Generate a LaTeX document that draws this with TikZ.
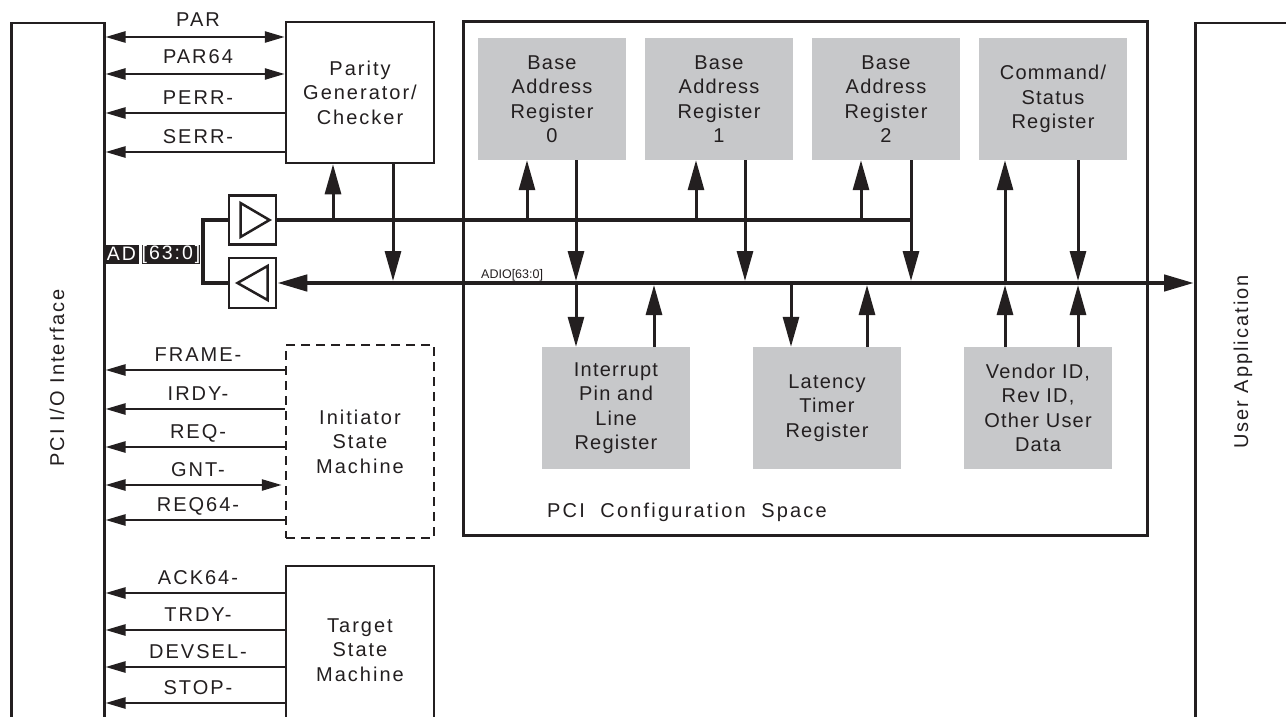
\documentclass[tikz,border=0pt]{standalone}
\usepackage{fontspec}
\setmainfont{Liberation Sans}
\newfontfamily\spacedfont{Liberation Sans}[LetterSpace=10]
\newfontfamily\regfont{Liberation Sans}[LetterSpace=6]
\newfontfamily\cfgfont{Liberation Sans}[LetterSpace=11, WordSpace=2]
\usetikzlibrary{arrows.meta}
\definecolor{ink}{RGB}{35,31,32}
\definecolor{regGray}{RGB}{199,200,202}
\tikzset{
  tipS/.tip={Triangle[length=20pt,width=11pt]},
  tipB/.tip={Triangle[length=30pt,width=16pt]},
  lbl/.style={font=\spacedfont\fontsize{20}{24.5}\selectfont, align=center, inner sep=0pt, text=ink},
  blk/.style={draw=ink, line width=2.5pt, inner sep=0pt, lbl},
  reg/.style={fill=regGray, draw=none, minimum width=148pt, minimum height=122pt, align=center,
    inner sep=0pt, text=ink, font=\regfont\fontsize{20}{24.5}\selectfont},
  sig/.style={draw=ink, line width=2.5pt},
  va/.style={draw=ink, line width=3pt},
  bus/.style={draw=ink, line width=4.5pt},
  tri/.style={draw=ink, line width=2.5pt, line join=miter},
  adbox/.style={fill=ink, text=white, inner sep=0pt, minimum height=19pt,
    font=\spacedfont\fontsize{19.5}{19.5}\selectfont},
  siglbl/.style={lbl, anchor=base}
}
\begin{document}
\begin{tikzpicture}[x=1pt,y=-1pt]
\useasboundingbox (0,0) rectangle (1286,717);
\clip (0,0) rectangle (1286,717);
\fill[white] (0,0) rectangle (1286,717);

% outer interface boxes
\node[blk, minimum width=93pt, minimum height=740pt, anchor=north west] (pci) at (10,22) {};
\node[lbl, rotate=90] (pcitxt) at (57,378) {PCI I/O Interface};
\node[blk, minimum width=130pt, minimum height=740pt, anchor=north west] (ua) at (1194,22) {};
\node[lbl, rotate=90] (uatxt) at (1243,362) {User Application};

% left blocks
\node[blk, minimum width=148pt, minimum height=141pt] (par) at (360,92.5) {Parity\\Generator/\\Checker};
\node[blk, dash pattern=on 9pt off 6pt, minimum width=148pt, minimum height=193pt] (ini) at (360,441.5) {Initiator\\State\\Machine};
\node[blk, minimum width=148pt, minimum height=168pt] (tgt) at (360,650) {Target\\State\\Machine};

% configuration space
\node[draw=ink, line width=3pt, minimum width=684pt, minimum height=513pt, inner sep=0pt] (cfg) at (805,278.5) {};
\node[lbl, font=\cfgfont\fontsize{20}{24.5}\selectfont, anchor=west] (cfglbl) at (547,512) {PCI Configuration Space};

\node[reg] (bar0) at (552,99) {Base\\Address\\Register\\0};
\node[reg] (bar1) at (719,99) {Base\\Address\\Register\\1};
\node[reg] (bar2) at (886,99) {Base\\Address\\Register\\2};
\node[reg] (cmd) at (1053,99) {Command/\\Status\\Register};
\node[reg] (int) at (616,408) {Interrupt\\Pin and\\Line\\Register};
\node[reg] (lat) at (827,408) {Latency\\Timer\\Register};
\node[reg] (ven) at (1038,408) {Vendor ID,\\Rev ID,\\Other User\\Data};

% buffers
\node[draw=ink, line width=2.5pt, minimum width=47pt, minimum height=49pt, inner sep=0pt] (ubuf) at (252.5,220) {};
\node[draw=ink, line width=2.5pt, minimum width=47pt, minimum height=50pt, inner sep=0pt] (lbuf) at (252.5,283) {};
\draw[tri, shift={(ubuf.center)}] (-12,-17) -- (17,0) -- (-12,17) -- cycle;
\draw[tri, shift={(lbuf.center)}] (15,-17) -- (-15,0) -- (15,17) -- cycle;

% AD label
\node[adbox, minimum width=35pt] (ad1) at (121.5,254) {AD};
\node[adbox, minimum width=58pt] (ad2) at (171,254) {[63:0]};

% bus coordinates
\coordinate (bu) at (0,220);
\coordinate (bl) at (0,283);
\coordinate (xPu) at (333,0);
\coordinate (xPd) at (393,0);
\coordinate (x0u) at (527,0);
\coordinate (x0d) at (576,0);
\coordinate (x1u) at (696,0);
\coordinate (x1d) at (745,0);
\coordinate (x2u) at (861,0);
\coordinate (x2d) at (911,0);
\coordinate (xCu) at (1005,0);
\coordinate (xCd) at (1078,0);
\coordinate (xIu) at (654,0);
\coordinate (xLd) at (791,0);
\coordinate (xLu) at (867,0);

% buses
\draw[bus] (ubuf.east) -- (x2d |- bu);
\draw[bus] (ubuf.west) -- ++(-25,0) |- (lbuf.west);
\draw[bus, tipB-tipB] (lbuf.east) -- (ua.west |- bl);
\node[font=\fontsize{12.5}{12.5}\selectfont, text=ink, anchor=base west, inner sep=0pt] (adio) at (481,278) {ADIO[63:0]};

% vertical arrows
\draw[va, -tipB] (xPu |- bu) -- (xPu |- par.south);
\draw[va, -tipB, shorten >=2pt] (xPd |- par.south) -- (xPd |- bl);
\draw[va, -tipB] (x0u |- bu) -- (x0u |- bar0.south);
\draw[va, -tipB, shorten >=2pt] (x0d |- bar0.south) -- (x0d |- bl);
\draw[va, -tipB] (x1u |- bu) -- (x1u |- bar1.south);
\draw[va, -tipB, shorten >=2pt] (x1d |- bar1.south) -- (x1d |- bl);
\draw[va, -tipB] (x2u |- bu) -- (x2u |- bar2.south);
\draw[va, -tipB, shorten >=2pt] (x2d |- bar2.south) -- (x2d |- bl);
\draw[va, -tipB] (xCu |- bl) -- (xCu |- cmd.south);
\draw[va, -tipB, shorten >=2pt] (xCd |- cmd.south) -- (xCd |- bl);
\draw[va, -tipB] (x0d |- bl) -- (x0d |- int.north);
\draw[va, -tipB, shorten >=2pt] (xIu |- int.north) -- (xIu |- bl);
\draw[va, -tipB] (xLd |- bl) -- (xLd |- lat.north);
\draw[va, -tipB, shorten >=2pt] (xLu |- lat.north) -- (xLu |- bl);
\draw[va, -tipB, shorten >=2pt] (xCu |- ven.north) -- (xCu |- bl);
\draw[va, -tipB, shorten >=2pt] (xCd |- ven.north) -- (xCd |- bl);

% signal lines
\coordinate (sPAR) at (0,37);
\coordinate (sPAR64) at (0,74);
\coordinate (sPERR) at (0,113);
\coordinate (sSERR) at (0,152);
\coordinate (sFRAME) at (0,370);
\coordinate (sIRDY) at (0,409);
\coordinate (sREQ) at (0,447);
\coordinate (sGNT) at (0,485);
\coordinate (sREQ64) at (0,520);
\coordinate (sACK) at (0,593);
\coordinate (sTRDY) at (0,630);
\coordinate (sDEV) at (0,667);
\coordinate (sSTOP) at (0,703);

\draw[sig, tipS-tipS] (pci.east |- sPAR) -- (par.west |- sPAR);
\draw[sig, tipS-tipS] (pci.east |- sPAR64) -- (par.west |- sPAR64);
\draw[sig, -tipS] (par.west |- sPERR) -- (pci.east |- sPERR);
\draw[sig, -tipS] (par.west |- sSERR) -- (pci.east |- sSERR);
\draw[sig, -tipS] (ini.west |- sFRAME) -- (pci.east |- sFRAME);
\draw[sig, -tipS] (ini.west |- sIRDY) -- (pci.east |- sIRDY);
\draw[sig, -tipS] (ini.west |- sREQ) -- (pci.east |- sREQ);
\draw[sig, tipS-tipS, shorten >=3pt] (pci.east |- sGNT) -- (ini.west |- sGNT);
\draw[sig, -tipS] (ini.west |- sREQ64) -- (pci.east |- sREQ64);
\draw[sig, -tipS] (tgt.west |- sACK) -- (pci.east |- sACK);
\draw[sig, -tipS] (tgt.west |- sTRDY) -- (pci.east |- sTRDY);
\draw[sig, -tipS] (tgt.west |- sDEV) -- (pci.east |- sDEV);
\draw[sig, -tipS] (tgt.west |- sSTOP) -- (pci.east |- sSTOP);

\node[siglbl] (lPAR) at (198,27) {PAR};
\node[siglbl] (lPAR64) at (198,64) {PAR64};
\node[siglbl] (lPERR) at (198,104) {PERR-};
\node[siglbl] (lSERR) at (198,143) {SERR-};
\node[siglbl] (lFRAME) at (198,361) {FRAME-};
\node[siglbl] (lIRDY) at (198,400) {IRDY-};
\node[siglbl] (lREQ) at (198,438) {REQ-};
\node[siglbl] (lGNT) at (198,476) {GNT-};
\node[siglbl] (lREQ64) at (198,511) {REQ64-};
\node[siglbl] (lACK) at (198,584) {ACK64-};
\node[siglbl] (lTRDY) at (198,621) {TRDY-};
\node[siglbl] (lDEV) at (198,658) {DEVSEL-};
\node[siglbl] (lSTOP) at (198,694) {STOP-};
\end{tikzpicture}
\end{document}
